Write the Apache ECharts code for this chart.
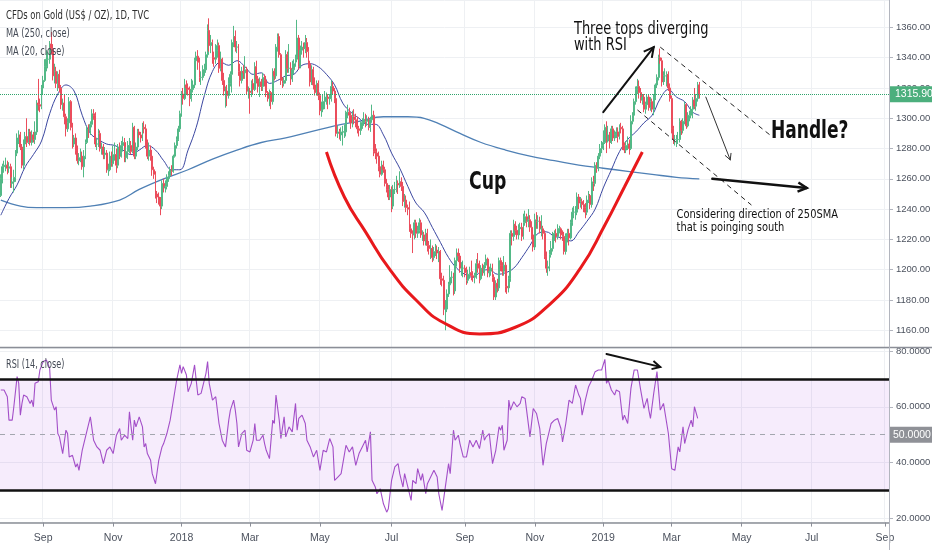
<!DOCTYPE html>
<html><head><meta charset="utf-8">
<script src="https://cdn.jsdelivr.net/npm/echarts/dist/echarts.min.js"></script>
<style>html,body{margin:0;padding:0;background:#fff}#c{width:932px;height:550px}</style>
</head><body><div id="c"></div><script>
// ---- daily candles [open, close, low, high] ----
const jul17=[[1249,1260,1248,1263],[1260,1268,1257,1270],[1268,1269,1264,1272]];
const aug17=[[1269,1269,1265,1274],[1269,1267,1263,1272],[1267,1268,1264,1271],[1268,1257,1254,1270],[1257,1258,1254,1261],[1258,1261,1251,1266],[1261,1277,1258,1279],[1277,1287,1275,1290],[1287,1289,1283,1292],[1289,1281,1279,1291],[1281,1269,1267,1283],[1269,1283,1266,1286],[1283,1288,1281,1291],[1288,1284,1281,1300],[1284,1291,1283,1293],[1291,1284,1282,1293],[1284,1289,1282,1292],[1289,1286,1284,1291],[1286,1291,1283,1298],[1291,1310,1289,1312],[1310,1309,1305,1326],[1309,1308,1304,1313],[1308,1320,1306,1322]];
const sep17=[[1320,1325,1316,1328],[1325,1334,1324,1339],[1334,1339,1331,1345],[1339,1339,1333,1344],[1339,1349,1336,1351],[1349,1346,1342,1357],[1346,1328,1325,1349],[1328,1331,1323,1336],[1331,1323,1320,1334],[1323,1329,1318,1331],[1329,1320,1317,1332],[1320,1309,1306,1322],[1309,1310,1305,1313],[1310,1301,1296,1316],[1301,1293,1288,1303],[1293,1297,1291,1300],[1297,1311,1295,1314],[1311,1294,1292,1312],[1294,1283,1280,1297],[1283,1287,1281,1289],[1287,1279,1276,1290]];
const oct17=[[1279,1272,1270,1282],[1272,1274,1269,1277],[1274,1275,1271,1280],[1275,1268,1266,1278],[1268,1275,1261,1279],[1275,1284,1273,1286],[1284,1293,1283,1295],[1293,1292,1287,1296],[1292,1296,1289,1298],[1296,1303,1294,1306],[1303,1302,1299,1306],[1302,1283,1281,1304],[1283,1283,1279,1287],[1283,1290,1281,1293],[1290,1280,1278,1292],[1280,1281,1276,1284],[1281,1276,1273,1283],[1276,1277,1273,1281],[1277,1266,1264,1279],[1266,1266,1262,1270],[1266,1275,1265,1278],[1275,1270,1268,1278]];
const nov17=[[1270,1276,1268,1282],[1276,1276,1272,1284],[1276,1269,1264,1280],[1269,1281,1267,1283],[1281,1275,1273,1284],[1275,1282,1274,1285],[1282,1284,1278,1288],[1284,1274,1271,1287],[1274,1278,1271,1281],[1278,1282,1273,1285],[1282,1282,1277,1287],[1282,1278,1276,1285],[1278,1294,1277,1297],[1294,1275,1273,1295],[1275,1281,1273,1284],[1281,1291,1279,1293],[1291,1289,1287,1293],[1289,1287,1284,1291],[1287,1294,1285,1297],[1294,1293,1290,1298],[1293,1283,1280,1296],[1283,1275,1273,1286]];
const dec17=[[1275,1279,1272,1284],[1279,1275,1272,1282],[1275,1266,1262,1278],[1266,1263,1260,1268],[1263,1250,1247,1265],[1250,1248,1244,1252],[1248,1246,1243,1251],[1246,1242,1236,1248],[1242,1257,1240,1259],[1257,1254,1251,1260],[1254,1255,1251,1259],[1255,1261,1253,1263],[1261,1262,1258,1265],[1262,1266,1260,1268],[1266,1265,1262,1269],[1265,1275,1264,1276],[1275,1282,1274,1284],[1282,1286,1280,1288],[1286,1293,1285,1295],[1293,1303,1291,1305]];
const jan18=[[1303,1316,1301,1318],[1316,1313,1309,1320],[1313,1322,1312,1326],[1322,1320,1316,1325],[1320,1319,1315,1323],[1319,1313,1308,1321],[1313,1319,1311,1326],[1319,1322,1317,1325],[1322,1338,1320,1340],[1338,1341,1336,1344],[1341,1337,1332,1345],[1337,1327,1324,1340],[1327,1327,1322,1331],[1327,1332,1325,1335],[1332,1332,1328,1336],[1332,1342,1330,1344],[1342,1358,1340,1362],[1358,1348,1344,1366],[1348,1350,1343,1355],[1350,1340,1336,1352],[1340,1339,1334,1344],[1339,1345,1336,1349]];
const feb18=[[1345,1348,1340,1352],[1348,1333,1330,1350],[1333,1339,1331,1344],[1339,1325,1322,1340],[1325,1318,1315,1330],[1318,1318,1307,1321],[1318,1315,1308,1322],[1315,1323,1313,1327],[1323,1329,1321,1331],[1329,1350,1317,1352],[1350,1354,1347,1361],[1354,1347,1344,1358],[1347,1347,1343,1351],[1347,1331,1328,1349],[1331,1325,1321,1336],[1325,1331,1323,1334],[1331,1330,1326,1335],[1330,1332,1326,1341],[1332,1318,1316,1334],[1318,1318,1313,1321]];
const mar18=[[1318,1317,1303,1320],[1317,1323,1314,1325],[1323,1319,1316,1326],[1319,1334,1318,1337],[1334,1326,1323,1338],[1326,1321,1317,1328],[1321,1324,1314,1327],[1324,1321,1318,1326],[1321,1327,1318,1330],[1327,1325,1321,1329],[1325,1317,1314,1328],[1317,1313,1311,1318],[1313,1317,1308,1319],[1317,1311,1306,1318],[1311,1331,1309,1333],[1331,1328,1325,1333],[1328,1347,1326,1349],[1347,1354,1344,1356],[1354,1342,1340,1356],[1342,1325,1322,1343],[1325,1323,1320,1327],[1323,1325,1321,1327]];
const apr18=[[1325,1342,1323,1345],[1342,1333,1330,1344],[1333,1333,1330,1349],[1333,1326,1322,1337],[1326,1332,1324,1338],[1332,1336,1329,1339],[1336,1339,1334,1342],[1339,1353,1337,1365],[1353,1334,1332,1355],[1334,1345,1333,1348],[1345,1347,1342,1351],[1347,1346,1340,1350],[1346,1350,1343,1355],[1350,1344,1340,1353],[1344,1336,1333,1347],[1336,1324,1321,1338],[1324,1332,1322,1335],[1332,1322,1319,1334],[1322,1317,1315,1327],[1317,1323,1315,1325],[1323,1315,1312,1325]];
const may18=[[1315,1305,1302,1317],[1305,1306,1301,1311],[1306,1311,1304,1316],[1311,1314,1306,1318],[1314,1314,1309,1317],[1314,1313,1306,1316],[1313,1313,1309,1316],[1313,1321,1311,1325],[1321,1318,1316,1324],[1318,1313,1310,1320],[1313,1290,1288,1315],[1290,1291,1287,1295],[1291,1289,1286,1293],[1289,1291,1285,1294],[1291,1291,1282,1295],[1291,1291,1287,1296],[1291,1304,1288,1305],[1304,1304,1300,1309],[1304,1302,1297,1307],[1302,1297,1293,1304],[1297,1301,1294,1305],[1301,1299,1296,1306],[1299,1298,1294,1303]];
const jun18=[[1298,1293,1290,1301],[1293,1292,1288,1295],[1292,1297,1289,1298],[1297,1297,1293,1300],[1297,1299,1295,1304],[1299,1298,1294,1303],[1298,1299,1295,1302],[1299,1294,1292,1301],[1294,1299,1291,1301],[1299,1302,1297,1309],[1302,1278,1275,1305],[1278,1277,1273,1283],[1277,1275,1270,1280],[1275,1268,1265,1278],[1268,1263,1261,1272],[1263,1269,1262,1272],[1269,1266,1264,1272],[1266,1257,1255,1268],[1257,1253,1251,1260],[1253,1248,1246,1256],[1248,1253,1246,1256]];
const jul18=[[1253,1242,1238,1255],[1242,1253,1240,1256],[1253,1253,1250,1258],[1253,1257,1251,1262],[1257,1256,1250,1259],[1256,1258,1254,1265],[1258,1255,1252,1261],[1255,1245,1242,1258],[1245,1246,1241,1250],[1246,1241,1238,1249],[1241,1240,1236,1243],[1240,1227,1225,1245],[1227,1224,1221,1230],[1224,1223,1211,1226],[1223,1231,1220,1233],[1231,1224,1221,1233],[1224,1226,1221,1229],[1226,1231,1224,1234],[1231,1223,1221,1233],[1223,1223,1219,1226],[1223,1219,1216,1225],[1219,1224,1216,1227]];
const aug18=[[1224,1216,1212,1227],[1216,1214,1210,1219],[1214,1214,1207,1220],[1214,1208,1205,1216],[1208,1212,1206,1215],[1212,1213,1209,1217],[1213,1211,1207,1216],[1211,1212,1205,1215],[1212,1194,1190,1213],[1194,1193,1189,1198],[1193,1174,1170,1196],[1174,1174,1160,1180],[1174,1184,1172,1187],[1184,1190,1182,1192],[1190,1195,1187,1203],[1195,1195,1191,1199],[1195,1186,1183,1198],[1186,1206,1184,1208],[1206,1211,1202,1214],[1211,1209,1205,1214],[1209,1201,1198,1211],[1201,1201,1196,1205],[1201,1201,1195,1206]];
const sep18=[[1201,1198,1195,1203],[1198,1193,1190,1202],[1193,1197,1191,1200],[1197,1198,1194,1202],[1198,1196,1193,1206],[1196,1195,1192,1199],[1195,1196,1191,1198],[1196,1204,1194,1207],[1204,1201,1198,1211],[1201,1194,1191,1206],[1194,1201,1193,1203],[1201,1198,1196,1204],[1198,1203,1196,1205],[1203,1207,1201,1210],[1207,1198,1195,1208],[1198,1199,1195,1202],[1199,1201,1196,1204],[1201,1195,1192,1204],[1195,1182,1180,1197],[1182,1191,1180,1193]];
const oct18=[[1191,1188,1185,1194],[1188,1206,1186,1208],[1206,1203,1199,1208],[1203,1199,1196,1205],[1199,1203,1196,1209],[1203,1189,1185,1205],[1189,1188,1184,1193],[1188,1194,1185,1196],[1194,1224,1192,1226],[1224,1222,1216,1226],[1222,1230,1219,1233],[1230,1226,1223,1232],[1226,1223,1220,1229],[1223,1227,1220,1230],[1227,1228,1223,1231],[1228,1222,1219,1231],[1222,1231,1220,1237],[1231,1235,1229,1239],[1235,1232,1228,1237],[1232,1233,1228,1240],[1233,1228,1225,1236],[1228,1223,1220,1232],[1223,1215,1212,1226]];
const nov18=[[1215,1233,1213,1237],[1233,1232,1227,1238],[1232,1232,1227,1236],[1232,1227,1224,1235],[1227,1227,1222,1236],[1227,1224,1220,1229],[1224,1209,1207,1226],[1209,1201,1198,1212],[1201,1202,1196,1206],[1202,1210,1199,1213],[1210,1214,1208,1219],[1214,1222,1212,1225],[1222,1224,1219,1226],[1224,1222,1218,1227],[1222,1227,1220,1230],[1227,1227,1224,1229],[1227,1223,1220,1228],[1223,1222,1219,1226],[1222,1212,1210,1225],[1212,1221,1210,1224],[1221,1224,1218,1227],[1224,1221,1216,1227]];
const dec18=[[1221,1231,1220,1233],[1231,1238,1229,1241],[1238,1238,1234,1242],[1238,1238,1233,1242],[1238,1248,1236,1251],[1248,1244,1240,1250],[1244,1245,1241,1248],[1245,1243,1240,1247],[1243,1241,1238,1246],[1241,1238,1234,1244],[1238,1246,1236,1249],[1246,1249,1244,1252],[1249,1243,1240,1250],[1243,1258,1241,1261],[1258,1257,1252,1262],[1257,1269,1255,1271],[1269,1267,1264,1271],[1267,1275,1265,1277],[1275,1280,1273,1283],[1280,1282,1277,1285]];
const jan19=[[1282,1284,1279,1292],[1284,1294,1283,1296],[1294,1285,1277,1298],[1285,1289,1284,1295],[1289,1284,1280,1291],[1284,1293,1283,1295],[1293,1287,1285,1295],[1287,1289,1285,1292],[1289,1291,1287,1294],[1291,1288,1284,1294],[1288,1294,1286,1296],[1294,1293,1290,1297],[1293,1282,1279,1295],[1282,1279,1277,1284],[1279,1282,1277,1285],[1282,1283,1279,1288],[1283,1280,1276,1286],[1280,1298,1279,1302],[1298,1302,1296,1304],[1302,1311,1301,1313],[1311,1319,1309,1321],[1319,1321,1316,1326]];
const feb19=[[1321,1317,1313,1325],[1317,1312,1310,1320],[1312,1314,1309,1316],[1314,1306,1304,1316],[1306,1309,1303,1311],[1309,1314,1307,1316],[1314,1307,1305,1316],[1307,1311,1305,1314],[1311,1306,1304,1313],[1306,1314,1302,1316],[1314,1322,1312,1323],[1322,1327,1320,1329],[1327,1340,1325,1342],[1340,1338,1336,1346],[1338,1324,1321,1340],[1324,1328,1322,1331],[1328,1328,1324,1333],[1328,1329,1321,1331],[1329,1320,1318,1331],[1320,1313,1311,1323]];
const mar19=[[1313,1293,1290,1315],[1293,1286,1283,1295],[1286,1286,1282,1289],[1286,1286,1281,1289],[1286,1286,1283,1291],[1286,1298,1284,1300],[1298,1292,1289,1299],[1292,1298,1290,1300],[1298,1309,1296,1311],[1309,1295,1293,1310],[1295,1302,1294,1304],[1302,1302,1298,1305],[1302,1306,1300,1308],[1306,1312,1300,1314],[1312,1308,1306,1320],[1308,1313,1305,1316],[1313,1322,1311,1324],[1322,1315.9,1313,1324]];

// ---- moving averages [barIndex, value] ----
const ma20=[[0,1236],[5,1247],[10,1256],[15,1268],[20,1276],[25,1285],[30,1303],[35,1316],[40,1322],[45,1318],[50,1302],[55,1290],[60,1286],[65,1283],[70,1282],[75,1279],[80,1276],[85,1279],[90,1282],[95,1279],[100,1272],[105,1266],[110,1266],[115,1279],[120,1294],[125,1315],[130,1331],[135,1337],[140,1335],[145,1338],[150,1334],[155,1329],[160,1330],[165,1323],[170,1325],[175,1328],[180,1329],[185,1335],[190,1336],[195,1334],[200,1329],[205,1322],[210,1310],[215,1304],[220,1300],[225,1296],[230,1296],[235,1289],[240,1277],[245,1267],[250,1255],[255,1244],[260,1238],[265,1228],[270,1218],[275,1208],[280,1201],[285,1197],[290,1195],[295,1199],[300,1200],[305,1197],[310,1198],[315,1201],[320,1208],[325,1216],[330,1224],[335,1225],[340,1222],[345,1221],[350,1219],[355,1225],[360,1232],[365,1240],[370,1254],[375,1266],[380,1278],[385,1286],[390,1291],[395,1297],[400,1302],[405,1313],[410,1319],[415,1314],[420,1311],[425,1304],[429,1302]];
const ma250=[[0,1246],[12,1242],[22,1241],[40,1241],[55,1242],[73,1246],[85,1253],[100,1260],[115,1266],[130,1273],[145,1279],[160,1284],[175,1287],[190,1291],[205,1295],[220,1298],[235,1301],[250,1301],[260,1300],[270,1296],[282,1290],[295,1284],[310,1279],[325,1275],[340,1272],[355,1269],[370,1267],[385,1265],[400,1263],[415,1261],[429,1260]];

// ---- RSI (14) [barIndex, value] ----
const rsi=[[0,66],[2,66],[4,63.6],[5,55.2],[7,55.2],[8,60],[10,70.8],[11,68.4],[12,57],[13,61.2],[14,64.2],[16,63.6],[18,61.2],[19,62.4],[20,60],[21,68.4],[23,69],[24,73.2],[26,76.2],[28,76.8],[30,73.8],[31,62.4],[32,61.8],[33,58.8],[34,60],[35,50.4],[36,49.2],[38,43.2],[40,51.6],[41,50.4],[42,42],[44,42.6],[46,38.4],[47,39.6],[48,37.2],[50,44.4],[52,49.2],[55,56.4],[57,48],[59,45.6],[61,44.4],[63,39.6],[65,44.4],[67,45.6],[69,43.2],[71,49.8],[73,52.2],[74,48],[76,49.8],[78,48.6],[79,58.2],[80,52.8],[81,48],[82,55.2],[83,52.8],[85,56.4],[86,55.8],[87,52.8],[88,45.6],[89,46.8],[90,43.2],[92,40.8],[93,36],[95,32.4],[97,40.8],[99,45.6],[100,46.8],[102,50.4],[104,55.2],[106,62.4],[108,69.6],[110,75],[111,72],[112,74.4],[114,71.4],[115,65.4],[117,68.4],[119,75],[120,74.4],[121,64.2],[123,64.8],[126,72],[127,76.2],[128,68.4],[130,62.4],[132,63.6],[133,64.2],[134,54],[135,54],[136,48],[138,45.6],[140,55.2],[141,58.8],[143,62.4],[144,58.8],[145,54],[146,45.6],[148,50.4],[150,51.6],[151,44.4],[153,43.8],[155,48],[156,54],[157,48],[159,48],[161,49.8],[162,46.8],[163,44.4],[165,41.4],[167,55.2],[168,54],[169,64.2],[171,55.2],[172,48.6],[174,56.4],[175,49.2],[177,52.8],[179,51],[181,61.2],[182,51.6],[183,55.8],[185,57],[187,54],[188,48],[190,45.6],[192,42],[194,44.4],[196,37.2],[198,44.4],[200,43.8],[202,48.6],[204,45.6],[205,33.6],[207,34.8],[209,36],[210,35.4],[212,46.2],[214,43.8],[216,45.6],[218,39],[220,43.2],[222,45.6],[224,48],[225,43.8],[227,51],[228,33.6],[230,31.2],[231,28.8],[233,30.6],[235,25.2],[237,22.2],[238,23.4],[240,33.6],[242,38.4],[244,39.6],[245,36],[247,31.2],[248,36],[250,31.2],[252,26.4],[253,33.6],[255,32.4],[256,37.8],[258,33.6],[259,36],[261,28.8],[262,32.4],[264,34.8],[266,37.2],[268,34.8],[269,28.8],[271,22.8],[272,22.8],[273,31.2],[275,39.6],[276,36],[278,51.6],[279,48],[281,49.8],[282,46.8],[284,42],[286,42],[288,48],[290,45.6],[292,48],[294,45],[296,51.6],[297,48],[298,49.2],[300,50.4],[302,39.6],[304,44.4],[305,43.8],[306,52.8],[307,51.6],[308,53.4],[309,44.4],[311,48],[312,62.4],[313,58.8],[315,61.8],[317,60],[319,61.2],[320,63.6],[322,63],[323,62.4],[325,49.2],[327,59.4],[329,57.6],[331,52.2],[333,39],[335,46.8],[336,49.2],[338,54],[340,55.2],[342,55.8],[344,52.2],[345,47.4],[347,54],[349,62.4],[351,61.2],[353,67.8],[355,64.2],[356,63],[357,57],[359,62.4],[361,67.2],[363,69.6],[365,72.6],[367,73.2],[369,73.2],[371,77],[372,68.4],[373,69.6],[375,66],[377,64.2],[378,66],[380,65.4],[382,55.2],[383,57],[385,54],[387,66.6],[389,73.2],[391,73.2],[393,66],[395,59.4],[397,63],[398,58.8],[399,55.8],[401,64.8],[403,72.6],[405,58.8],[407,61.2],[408,60.6],[410,50.4],[412,37.8],[414,37.2],[415,36.6],[416,45.6],[417,43.8],[419,52.8],[420,46.8],[422,51.6],[424,55.2],[425,52.8],[426,60],[428,55.8]];

// ---- axis ticks / reference levels ----
const tickLabels=['Sep','Nov','2018','Mar','May','Jul','Sep','Nov','2019','Mar','May','Jul','Sep'];
const lastPrice=1315.9;
const rsiLevels={upper:70,mid:50,lower:30};

// ---- drawn annotations, in [barIndex, price] / [barIndex, rsi] ----
const cupPath=[[200,1277.7],[211,1248],[224,1225],[239,1200],[255,1180],[272,1165],[294,1157.6],[316,1162],[337,1177],[356,1201],[371,1229.5],[383,1254.6],[394,1277.7]];
const arrowTops=[[370,1304],[401,1347]];
const channelUpper=[[405,1347],[474,1287.6]];
const channelLower=[[391,1305.5],[461,1242.7]];
const arrowDown=[[433,1314],[448,1272.5]];
const arrowSMA=[[437,1260],[495,1254]];
const arrowRSI=[[372,78.9],[405,74.3]];
const noteTops={at:[352,1364.2],text:'Three tops diverging\nwith RSI'};
const noteCup={at:[299,1257.3],text:'Cup'};
const noteHandle={at:[473,1290.9],text:'Handle?'};
const noteSMA={at:[415,1240.4],text:'Considering direction of 250SMA\nthat is poinging south'};

const categoryCount=546;
function buildDays(){
  const out=[];const d=new Date(Date.UTC(2017,6,27));
  while(out.length<categoryCount){
    const wd=d.getUTCDay();const iso=d.toISOString().slice(0,10);const md=iso.slice(5);
    if(wd!==0&&wd!==6&&md!=='12-25'&&md!=='01-01')out.push(iso);
    d.setUTCDate(d.getUTCDate()+1);
  }
  return out;
}
const days=buildDays();
const labelAt={};
{let k=0;for(let i=1;i<days.length;i++){const m=+days[i].slice(5,7);if(days[i].slice(5,7)!==days[i-1].slice(5,7)&&m%2===1){labelAt[i]=tickLabels[k++];}}}
const isTick=(i)=>labelAt[i]!==undefined;

const candles=[].concat(jul17,aug17,sep17,oct17,nov17,dec17,jan18,feb18,mar18,apr18,may18,jun18,jul18,aug18,sep18,oct18,nov18,dec18,jan19,feb19,mar19);

const FONT="'DejaVu Sans Condensed','Liberation Sans',sans-serif";
const AXFONT="'Liberation Sans','Roboto',sans-serif";
const gridColor='#eef0f3';
const axisTxt='#4c525e';

const chart=echarts.init(document.getElementById('c'),null,{renderer:'canvas'});
const xBase={type:'category',data:days,boundaryGap:true,
  splitLine:{show:true,interval:(i)=>isTick(i),lineStyle:{color:gridColor,width:1}}};
chart.setOption({
  animation:false,
  backgroundColor:'#ffffff',
  grid:[{left:0,right:43,top:0,height:348,containLabel:false,outerBoundsMode:'none'},
        {left:0,right:43,top:348,height:174.6,containLabel:false,outerBoundsMode:'none'}],
  xAxis:[
    Object.assign({},xBase,{gridIndex:0,axisLine:{show:false},axisTick:{show:false},axisLabel:{show:false}}),
    Object.assign({},xBase,{gridIndex:1,axisLine:{show:true,lineStyle:{color:'#8b8e97',width:1.5}},
      axisTick:{show:true,interval:(i)=>isTick(i),alignWithLabel:true,length:4,lineStyle:{color:'#8b8e97'}},
      axisLabel:{show:true,interval:(i)=>isTick(i),formatter:(v,i)=>labelAt[i]||'',color:axisTxt,fontSize:10.5,fontFamily:AXFONT,margin:10}})
  ],
  yAxis:[
    {type:'value',gridIndex:0,position:'right',min:1148.3,max:1378.1,minInterval:20,maxInterval:20,splitNumber:11,scale:true,
      axisLine:{show:true,lineStyle:{color:'#b2b5be'}},axisTick:{show:true,length:4,lineStyle:{color:'#b2b5be'}},
      axisLabel:{color:axisTxt,fontSize:9.5,fontFamily:AXFONT,margin:7,formatter:(v)=>v.toFixed(2),showMinLabel:false,showMaxLabel:false},
      splitLine:{show:true,lineStyle:{color:gridColor}}},
    {type:'value',gridIndex:1,position:'right',min:18.45,max:81.08,minInterval:20,maxInterval:20,splitNumber:3,scale:true,
      axisLine:{show:true,lineStyle:{color:'#b2b5be'}},axisTick:{show:true,length:4,lineStyle:{color:'#b2b5be'}},
      axisLabel:{color:axisTxt,fontSize:9.5,fontFamily:AXFONT,margin:7,formatter:(v)=>v.toFixed(4),showMinLabel:false,showMaxLabel:false},
      splitLine:{show:true,lineStyle:{color:gridColor}}}
  ],
  series:[
    {type:'line',name:'MA250',xAxisIndex:0,yAxisIndex:0,data:ma250,smooth:0.4,showSymbol:false,symbol:'none',
      lineStyle:{color:'#4f80b5',width:1.3},z:2,silent:true},
    {type:'line',name:'MA20',xAxisIndex:0,yAxisIndex:0,data:ma20,smooth:0.4,showSymbol:false,symbol:'none',
      lineStyle:{color:'#3b47a0',width:1},z:2,silent:true},
    {type:'candlestick',name:'Gold',xAxisIndex:0,yAxisIndex:0,data:candles,z:3,barWidth:1.4,
      itemStyle:{color:'#53b987',color0:'#eb4d5c',borderColor:'#53b987',borderColor0:'#eb4d5c',borderWidth:1},
      markLine:{silent:true,symbol:'none',animation:false,
        data:[{yAxis:lastPrice,lineStyle:{color:'#2fa36b',type:'dotted',width:1},
          label:{show:true,position:'end',distance:1,formatter:lastPrice.toFixed(2),color:'#fff',backgroundColor:'#4caf7d',padding:[3,5,2,5],fontSize:10.5,fontFamily:AXFONT}}]}},
    {type:'line',name:'Cup',xAxisIndex:0,yAxisIndex:0,data:cupPath,smooth:0.5,showSymbol:false,symbol:'none',
      lineStyle:{color:'#e8191c',width:3},z:5,silent:true},
    {type:'line',name:'RSI',xAxisIndex:1,yAxisIndex:1,data:rsi,showSymbol:false,symbol:'none',
      lineStyle:{color:'#a34fc8',width:1.1},z:4,silent:true,
      markArea:{silent:true,itemStyle:{color:'rgba(170,80,230,0.11)'},data:[[{yAxis:rsiLevels.lower},{yAxis:rsiLevels.upper}]]},
      markLine:{silent:true,symbol:'none',animation:false,data:[
        {yAxis:rsiLevels.mid,lineStyle:{color:'#a3a6af',type:[5,5],width:1},
          label:{show:true,position:'end',distance:1,formatter:'50.0000',color:'#fff',backgroundColor:'#8f9197',padding:[3,3,2,3],fontSize:10.5,fontFamily:AXFONT}},
        {yAxis:rsiLevels.upper,lineStyle:{color:'#111',type:'solid',width:2.5},label:{show:false}},
        {yAxis:rsiLevels.lower,lineStyle:{color:'#111',type:'solid',width:2.5},label:{show:false}}
      ]}}
  ]
});

// ---- annotation overlay positioned through the axes ----
const px=(g,p)=>chart.convertToPixel({xAxisIndex:g,yAxisIndex:g},p);
function seg(a,b,style){return {type:'line',silent:true,z:50,shape:{x1:a[0],y1:a[1],x2:b[0],y2:b[1]},style:style};}
function arrow(g,pts,w,len,color){
  const a=px(g,pts[0]),b=px(g,pts[1]);
  const dx=b[0]-a[0],dy=b[1]-a[1],L=Math.hypot(dx,dy),bx=-dx/L,by=-dy/L,ang=Math.PI/6.5;
  const rot=(t)=>[b[0]+len*(bx*Math.cos(t)-by*Math.sin(t)),b[1]+len*(bx*Math.sin(t)+by*Math.cos(t))];
  return [seg(a,b,{stroke:color,lineWidth:w,lineCap:'round'}),
    {type:'polyline',silent:true,z:50,shape:{points:[rot(ang),b,rot(-ang)]},style:{stroke:color,lineWidth:w,fill:null,lineJoin:'miter'}}];
}
function text(g,note,sx,opt){
  const p=px(g,note.at);
  return {type:'text',silent:true,z:60,x:p[0],y:p[1],scaleX:sx,style:Object.assign({x:0,y:0,text:note.text,fill:'#111',fontFamily:FONT},opt)};
}
const els=[];
els.push(...arrow(0,arrowTops,2,11,'#111'));
els.push(seg(px(0,channelUpper[0]),px(0,channelUpper[1]),{stroke:'#222',lineWidth:1,lineDash:[5,4]}));
els.push(seg(px(0,channelLower[0]),px(0,channelLower[1]),{stroke:'#222',lineWidth:1,lineDash:[5,4]}));
els.push(...arrow(0,arrowDown,1,7,'#333'));
els.push(...arrow(0,arrowSMA,2.5,10,'#111'));
els.push(...arrow(1,arrowRSI,2,9,'#111'));
els.push(text(0,noteTops,0.85,{fontSize:17,lineHeight:16.5,textAlign:'left',textVerticalAlign:'top'}));
els.push(text(0,noteCup,0.8,{fontSize:24,fontWeight:'bold',textAlign:'center',textVerticalAlign:'middle'}));
els.push(text(0,noteHandle,0.79,{fontSize:24,fontWeight:'bold',textAlign:'left',textVerticalAlign:'middle'}));
els.push(text(0,noteSMA,0.845,{fontSize:13,lineHeight:13,textAlign:'left',textVerticalAlign:'top'}));
// header legends
const hdr=(t,y,sz,sx,col)=>({type:'text',silent:true,z:60,x:6,y:y,scaleX:sx,style:{x:0,y:0,text:t,fill:col,fontSize:sz,fontFamily:FONT,textVerticalAlign:'middle'}});
els.push(hdr('CFDs on Gold (US$ / OZ), 1D, TVC',16,12.5,0.75,'#2e2e2e'));
els.push(hdr('MA (250, close)',34,12.5,0.73,'#444a55'));
els.push(hdr('MA (20, close)',52,12.5,0.73,'#444a55'));
els.push(hdr('RSI (14, close)',365,12.5,0.72,'#444a55'));
// pane separator and right scale border
els.push({type:'line',silent:true,z:40,shape:{x1:0,y1:347.5,x2:932,y2:347.5},style:{stroke:'#8b8e97',lineWidth:1.5}});
els.push({type:'line',silent:true,z:40,shape:{x1:889.5,y1:0,x2:889.5,y2:550},style:{stroke:'#b2b5be',lineWidth:1}});
chart.setOption({graphic:els});
</script></body></html>
